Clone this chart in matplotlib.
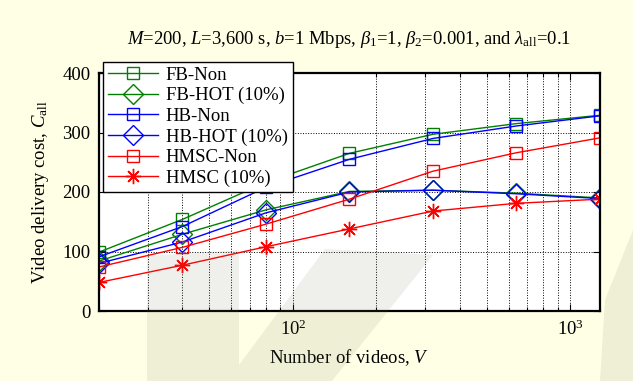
import matplotlib
matplotlib.use("Agg")
import matplotlib.pyplot as plt
from matplotlib.patches import Polygon
from matplotlib.ticker import LogLocator, NullFormatter, FixedLocator

plt.rcParams["font.family"] = ["Liberation Serif", "DejaVu Serif"]
plt.rcParams["mathtext.fontset"] = "custom"
plt.rcParams["mathtext.rm"] = "Liberation Serif"
plt.rcParams["mathtext.it"] = "Liberation Serif:italic"
plt.rcParams["font.size"] = 13.5

# number of videos
V = [20, 40, 80, 160, 320, 640, 1280]

# video delivery cost per scheme
fb_non = [99, 154, 216, 265, 297, 315, 329]
fb_hot = [84, 129, 170, 201, 203, 198, 190]
hb_non = [91, 142, 208, 255, 290, 311, 328]
hb_hot = [80, 116, 165, 200, 203, 197, 189]
hmsc_non = [74, 107, 146, 188, 235, 266, 291]
hmsc_hot = [48, 77, 108, 138, 168, 181, 188]

yticks = [0, 100, 200, 300, 400]

green = "#008000"
blue = "#0000ff"
red = "#ff0000"

fig = plt.figure(figsize=(6.33, 3.81), dpi=100, facecolor="#ffffe6")
ax = fig.add_axes([99 / 633, 1 - 311 / 381, 501 / 633, 238 / 381])
ax.set_facecolor("white")

ax.plot(V, fb_non, color=green, lw=1, marker="s", ms=9, mfc="none", mew=1, label="FB-Non")
ax.plot(V, fb_hot, color=green, lw=1, marker="D", ms=10, mfc="none", mew=1, label="FB-HOT (10%)")
ax.plot(V, hb_non, color=blue, lw=1, marker="s", ms=9, mfc="none", mew=1, label="HB-Non")
ax.plot(V, hb_hot, color=blue, lw=1, marker="D", ms=10, mfc="none", mew=1, label="HB-HOT (10%)")
ax.plot(V, hmsc_non, color=red, lw=1, marker="s", ms=9, mfc="none", mew=1, label="HMSC-Non")
ax.plot(V, hmsc_hot, color=red, lw=1, marker=(8, 2, 0), ms=11, mew=1, label="HMSC (10%)")

ax.set_xscale("log")
ax.set_xlim(20, 1280)
ax.set_ylim(0, 400)
ax.yaxis.set_major_locator(FixedLocator(yticks))
ax.xaxis.set_minor_locator(LogLocator(base=10, subs=range(2, 10)))
ax.xaxis.set_minor_formatter(NullFormatter())

ax.grid(True, which="major", axis="both", ls=":", color="black", lw=0.7)
ax.grid(True, which="minor", axis="x", ls=":", color="black", lw=0.7)

ax.tick_params(which="both", direction="in", top=True, right=True, width=0.8)
ax.tick_params(which="major", length=5, pad=6)
ax.tick_params(which="minor", length=3)
for s in ax.spines.values():
    s.set_linewidth(1.6)

ax.set_xlabel("Number of videos, $V$", labelpad=6)
ax.set_ylabel("Video delivery cost, $C_{\\rm all}$", labelpad=8)
ax.set_title("$M$=200, $L$=3,600 s, $b$=1 Mbps, $\\beta_1$=1, $\\beta_2$=0.001, and $\\lambda_{\\rm all}$=0.1",
             fontsize=13.4, pad=21)

leg = ax.legend(loc="upper left", bbox_to_anchor=(103 / 633, 1 - 62 / 381),
                bbox_transform=fig.transFigure, borderaxespad=0, numpoints=1,
                handlelength=2.7, handletextpad=0.4, labelspacing=0.18,
                borderpad=0.25, fancybox=False, framealpha=1, edgecolor="black")
leg.get_frame().set_linewidth(1)

# faint watermark shapes
wm = dict(closed=True, transform=fig.transFigure, facecolor="#6e6e50",
          edgecolor="none", alpha=0.11, zorder=10)
pts = [[(147, 256), (239, 250), (239, 381), (147, 381)],
       [(325, 249), (433, 255), (332, 381), (239, 381), (239, 365)],
       [(633, 230), (633, 381), (600, 381), (605, 300)]]
for p in pts:
    fig.patches.append(Polygon([(x / 633, 1 - y / 381) for x, y in p], **wm))

fig.savefig("out.png", dpi=100, facecolor=fig.get_facecolor())
